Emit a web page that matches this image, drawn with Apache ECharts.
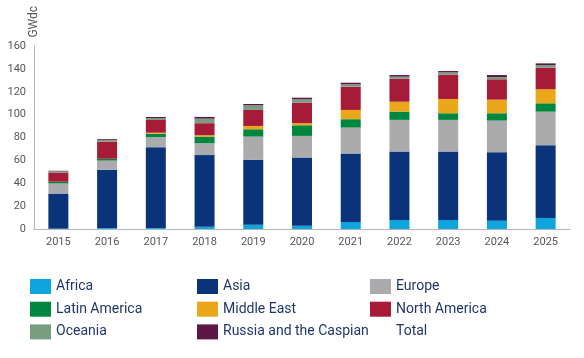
<!DOCTYPE html>
<html>
<head>
<meta charset="utf-8">
<script src="https://cdn.jsdelivr.net/npm/echarts@6/dist/echarts.min.js"></script>
<style>html,body{margin:0;padding:0;background:#fff}#c{width:584px;height:358px}</style>
</head>
<body>
<div id="c"></div>
<script>
const years = ['2015','2016','2017','2018','2019','2020','2021','2022','2023','2024','2025'];
const africa       = [0.3, 0.8, 0.8, 2.0, 3.8, 2.9, 6.1, 7.9, 7.9, 7.2, 9.6];
const asia         = [30.7, 51.0, 70.7, 62.6, 56.7, 59.6, 59.9, 59.8, 59.8, 60.0, 63.7];
const europe       = [8.8, 8.0, 8.8, 10.4, 20.3, 18.9, 22.7, 27.7, 27.7, 27.6, 29.3];
const latinAmerica = [1.3, 1.4, 2.9, 5.8, 6.4, 9.3, 7.3, 7.2, 5.8, 6.4, 7.3];
const middleEast   = [0.2, 0.2, 1.0, 1.2, 2.9, 1.8, 8.1, 8.7, 12.5, 11.9, 12.3];
const northAmerica = [8.1, 15.0, 11.1, 10.5, 14.0, 18.0, 20.3, 20.1, 21.2, 17.8, 18.8];
const oceania      = [1.0, 1.6, 1.7, 4.0, 4.1, 2.9, 2.1, 1.8, 2.1, 2.0, 2.4];
const russia       = [0.5, 0.7, 0.9, 1.5, 1.1, 1.4, 1.4, 1.4, 1.1, 1.7, 1.4];
const total        = [50.9, 78.7, 97.9, 98.0, 109.3, 114.8, 127.9, 134.6, 138.1, 134.6, 144.8];
const yTicks = [0, 20, 40, 60, 80, 100, 120, 140, 160];

const seriesDefs = [
  ['Africa', africa, '#0ea5df'],
  ['Asia', asia, '#0b3379'],
  ['Europe', europe, '#ababad'],
  ['Latin America', latinAmerica, '#00873f'],
  ['Middle East', middleEast, '#e9a719'],
  ['North America', northAmerica, '#a61b37'],
  ['Oceania', oceania, '#789d80'],
  ['Russia and the Caspian', russia, '#5c1747']
];

const series = seriesDefs.map(([name, data, color]) => ({
  name, type: 'bar', stack: 'all', data, barWidth: 20,
  itemStyle: { color }
}));
series.push({
  name: 'Total', type: 'line', data: total, symbol: 'none',
  lineStyle: { opacity: 0 }, itemStyle: { color: 'rgba(0,0,0,0)' }, silent: true
});

const legendText = { color: '#1f3768', fontSize: 14, fontFamily: 'Roboto' };
function legendCol(left, names) {
  return {
    orient: 'vertical', left, top: 274, itemWidth: 21, itemHeight: 15, itemGap: 7.7,
    textStyle: legendText, selectedMode: false,
    data: names.map(n => n === 'Total' ? { name: n, icon: 'rect', itemStyle: { opacity: 0 } } : { name: n, icon: 'rect' })
  };
}

const chart = echarts.init(document.getElementById('c'), null, { renderer: 'canvas' });
chart.setOption({
  animation: false,
  textStyle: { fontFamily: 'Roboto' },
  grid: { left: 34, right: 14, top: 46, bottom: 129, containLabel: false },
  legend: [
    legendCol(25, ['Africa', 'Latin America', 'Oceania']),
    legendCol(192, ['Asia', 'Middle East', 'Russia and the Caspian']),
    legendCol(365, ['Europe', 'North America', 'Total'])
  ],
  xAxis: {
    type: 'category', data: years,
    axisLine: { lineStyle: { color: '#b5b5b5', width: 1 } },
    axisTick: { show: false },
    axisLabel: { color: '#555', fontSize: 11, margin: 8 }
  },
  yAxis: {
    type: 'value', min: yTicks[0], max: yTicks[yTicks.length - 1], interval: 20,
    name: 'GWdc', nameLocation: 'end', nameRotate: 90, nameGap: 6,
    nameTextStyle: { color: '#555', fontSize: 12, align: 'left', verticalAlign: 'middle' },
    axisLine: { show: true, lineStyle: { color: '#b5b5b5', width: 1 } },
    axisTick: { show: false },
    splitLine: { show: false },
    axisLabel: { color: '#555', fontSize: 11, margin: 8 }
  },
  series
});
</script>
</body>
</html>
